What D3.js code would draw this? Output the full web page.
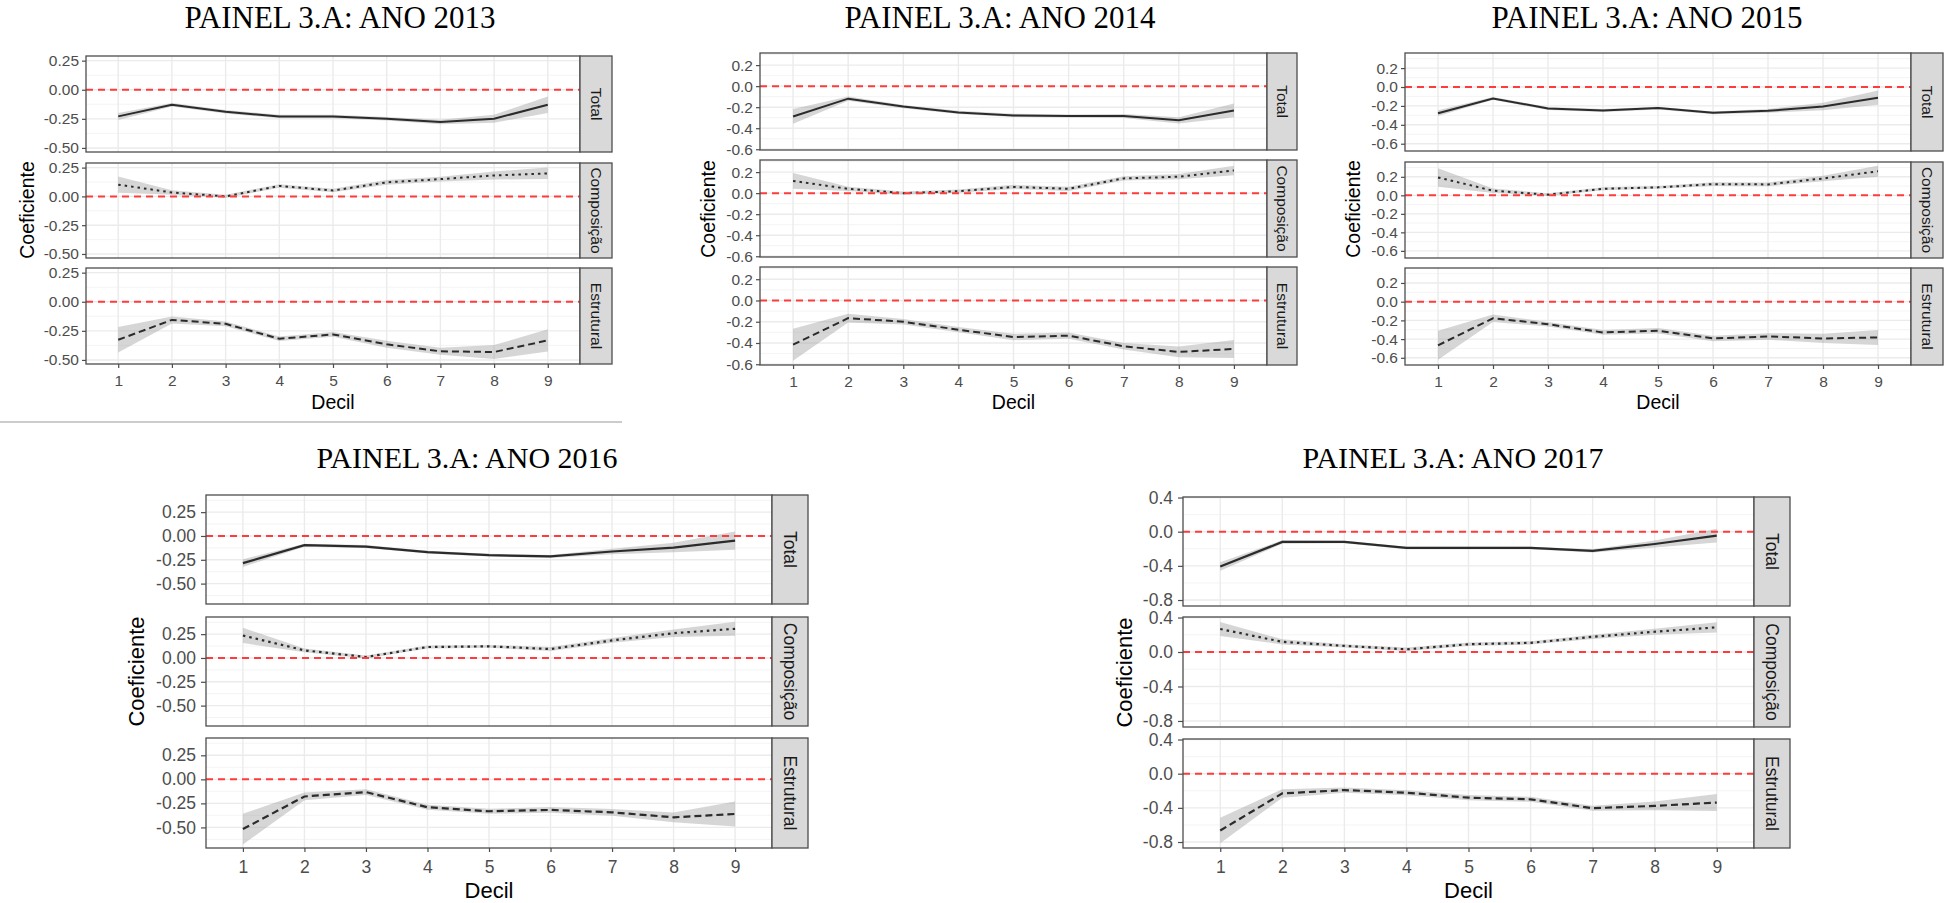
<!DOCTYPE html>
<html>
<head>
<meta charset="utf-8">
<script src="https://cdn.jsdelivr.net/npm/d3@7"></script>
<style>
  body { margin: 0; background: #fff; }
  svg { display: block; }
</style>
</head>
<body>
<svg id="chart" width="1950" height="903"></svg>
<script>
// deciles and facet names
const deciles = [1, 2, 3, 4, 5, 6, 7, 8, 9]
const facetNames = ['Total', 'Composição', 'Estrutural']
const years = [2013, 2014, 2015, 2016, 2017]

// estimates and half width of the band
const total2013 = [-0.229, -0.129, -0.19, -0.229, -0.229, -0.249, -0.277, -0.249, -0.129]
const totalCi2013 = [0.03, 0.015, 0.015, 0.015, 0.015, 0.015, 0.02, 0.035, 0.07]
const comp2013 = [0.102, 0.034, 0.0, 0.091, 0.051, 0.122, 0.15, 0.182, 0.2]
const compCi2013 = [0.07, 0.02, 0.015, 0.015, 0.015, 0.02, 0.02, 0.035, 0.05]
const estr2013 = [-0.327, -0.156, -0.19, -0.318, -0.281, -0.366, -0.426, -0.432, -0.332]
const estrCi2013 = [0.11, 0.03, 0.02, 0.02, 0.02, 0.03, 0.03, 0.06, 0.095]

const total2014 = [-0.288, -0.119, -0.194, -0.25, -0.278, -0.284, -0.284, -0.325, -0.231]
const totalCi2014 = [0.07, 0.02, 0.015, 0.015, 0.015, 0.015, 0.02, 0.03, 0.065]
const comp2014 = [0.116, 0.041, 0.0, 0.019, 0.059, 0.041, 0.14, 0.156, 0.216]
const compCi2014 = [0.075, 0.02, 0.015, 0.015, 0.02, 0.02, 0.02, 0.025, 0.045]
const estr2014 = [-0.416, -0.166, -0.2, -0.275, -0.344, -0.331, -0.431, -0.484, -0.456]
const estrCi2014 = [0.15, 0.04, 0.025, 0.025, 0.03, 0.03, 0.03, 0.05, 0.085]

const total2015 = [-0.277, -0.121, -0.227, -0.248, -0.223, -0.273, -0.252, -0.206, -0.113]
const totalCi2015 = [0.03, 0.015, 0.015, 0.015, 0.015, 0.015, 0.02, 0.04, 0.075]
const comp2015 = [0.193, 0.05, 0.007, 0.071, 0.086, 0.121, 0.118, 0.182, 0.26]
const compCi2015 = [0.1, 0.025, 0.015, 0.015, 0.015, 0.02, 0.02, 0.03, 0.06]
const estr2015 = [-0.467, -0.177, -0.241, -0.329, -0.311, -0.393, -0.372, -0.393, -0.382]
const estrCi2015 = [0.155, 0.04, 0.025, 0.025, 0.03, 0.03, 0.035, 0.05, 0.08]

const total2016 = [-0.285, -0.097, -0.111, -0.17, -0.201, -0.215, -0.163, -0.122, -0.049]
const totalCi2016 = [0.04, 0.015, 0.015, 0.015, 0.015, 0.015, 0.03, 0.05, 0.095]
const comp2016 = [0.236, 0.08, 0.01, 0.115, 0.122, 0.094, 0.184, 0.26, 0.306]
const compCi2016 = [0.08, 0.02, 0.015, 0.015, 0.015, 0.02, 0.025, 0.04, 0.073]
const estr2016 = [-0.517, -0.178, -0.133, -0.29, -0.332, -0.318, -0.343, -0.395, -0.36]
const estrCi2016 = [0.16, 0.04, 0.03, 0.025, 0.025, 0.03, 0.035, 0.05, 0.13]

const total2017 = [-0.408, -0.12, -0.12, -0.19, -0.19, -0.19, -0.225, -0.144, -0.047]
const totalCi2017 = [0.05, 0.02, 0.015, 0.015, 0.015, 0.015, 0.02, 0.04, 0.08]
const comp2017 = [0.267, 0.118, 0.071, 0.031, 0.09, 0.106, 0.176, 0.235, 0.286]
const compCi2017 = [0.08, 0.03, 0.02, 0.02, 0.02, 0.02, 0.025, 0.035, 0.06]
const estr2017 = [-0.665, -0.231, -0.192, -0.223, -0.281, -0.3, -0.404, -0.377, -0.338]
const estrCi2017 = [0.15, 0.05, 0.03, 0.03, 0.03, 0.03, 0.03, 0.05, 0.1]

// y tick labels per year
const ticks2013 = [0.25, 0, -0.25, -0.5]
const ticks2014 = [0.2, 0, -0.2, -0.4, -0.6]
const ticks2015 = [0.2, 0, -0.2, -0.4, -0.6]
const ticks2016 = [0.25, 0, -0.25, -0.5]
const ticks2017 = [0.4, 0, -0.4, -0.8]

const series = {
    2013: [[total2013, totalCi2013], [comp2013, compCi2013], [estr2013, estrCi2013]],
    2014: [[total2014, totalCi2014], [comp2014, compCi2014], [estr2014, estrCi2014]],
    2015: [[total2015, totalCi2015], [comp2015, compCi2015], [estr2015, estrCi2015]],
    2016: [[total2016, totalCi2016], [comp2016, compCi2016], [estr2016, estrCi2016]],
    2017: [[total2017, totalCi2017], [comp2017, compCi2017], [estr2017, estrCi2017]]
}

// layout of each small figure
const row1 = {fsTick: 15.5, fsTitle: 19.5, fsHead: 31, tickPad: 6.5, xTitleY: 409, lw: 2}
const row2 = {fsTick: 17.5, fsTitle: 22, fsHead: 30, tickPad: 8.6, xTitleY: 898, lw: 2.2}
const layouts = {
    2013: {row: row1, left: 86, right: 580, stripR: 612, facets: [[56, 152], [163, 258], [268, 364]],
        domain: [-0.535, 0.29], ticks: ticks2013, fmt: '.2f', titleX: 340, titleY: 28, yLabX: 27},
    2014: {row: row1, left: 760, right: 1267, stripR: 1297, facets: [[53, 150], [160, 257], [267, 365]],
        domain: [-0.607, 0.315], ticks: ticks2014, fmt: '.1f', titleX: 1000, titleY: 28, yLabX: 708},
    2015: {row: row1, left: 1405, right: 1911, stripR: 1943, facets: [[53, 151], [162, 258], [268, 365]],
        domain: [-0.677, 0.36], ticks: ticks2015, fmt: '.1f', titleX: 1647, titleY: 28, yLabX: 1353},
    2016: {row: row2, left: 206, right: 772, stripR: 808, facets: [[495, 604], [617, 726], [738, 848]],
        domain: [-0.714, 0.43], ticks: ticks2016, fmt: '.2f', titleX: 467, titleY: 468, yLabX: 136},
    2017: {row: row2, left: 1183, right: 1754, stripR: 1790, facets: [[497, 606], [617, 727], [739, 848]],
        domain: [-0.87, 0.406], ticks: ticks2017, fmt: '.1f', titleX: 1453, titleY: 468, yLabX: 1124}
}

const dashes = ['none', '2.5,4', '7,4']
const svg = d3.select('#chart')

// separator line between the two rows
svg.append('line')
    .attr('x1', 0).attr('x2', 622)
    .attr('y1', 422).attr('y2', 422)
    .attr('stroke', '#bbbbbb')
    .attr('stroke-width', 1.4)

const drawYear = (year) => {
    const L = layouts[year]
    const R = L.row
    const g = svg.append('g')

    const x = d3.scalePoint()
        .domain(deciles)
        .range([L.left, L.right])
        .padding(0.6)

    g.append('text')
        .text(`PAINEL 3.A: ANO ${year}`)
        .attr('x', L.titleX)
        .attr('y', L.titleY)
        .attr('text-anchor', 'middle')
        .style('font-family', '"Liberation Serif", "Times New Roman", serif')
        .style('font-size', R.fsHead + 'px')
        .attr('fill', '#000')

    const step = L.ticks[0] - L.ticks[1]

    L.facets.forEach((f, i) => {
        const y = d3.scaleLinear().domain(L.domain).range([f[1], f[0]])
        const fg = g.append('g')

        // minor grid
        let minors = []
        for (let v = L.ticks[0] + step / 2; v >= L.domain[0]; v -= step) {
            if (v <= L.domain[1]) minors.push(v)
        }
        fg.selectAll('.minor')
            .data(minors)
            .enter()
            .append('line')
            .attr('x1', L.left).attr('x2', L.right)
            .attr('y1', d => y(d)).attr('y2', d => y(d))
            .attr('stroke', '#f3f3f3')
            .attr('stroke-width', 0.9)

        fg.selectAll('.major')
            .data(L.ticks)
            .enter()
            .append('line')
            .attr('x1', L.left).attr('x2', L.right)
            .attr('y1', d => y(d)).attr('y2', d => y(d))
            .attr('stroke', '#ebebeb')
            .attr('stroke-width', 1.4)

        fg.selectAll('.vgrid')
            .data(deciles)
            .enter()
            .append('line')
            .attr('x1', d => x(d)).attr('x2', d => x(d))
            .attr('y1', f[0]).attr('y2', f[1])
            .attr('stroke', '#ebebeb')
            .attr('stroke-width', 1.4)

        const [est, ci] = series[year][i]
        const points = deciles.map((d, k) => ({dec: d, v: est[k], lo: est[k] - ci[k], hi: est[k] + ci[k]}))

        fg.append('path')
            .datum(points)
            .attr('d', d3.area()
                .x(d => x(d.dec))
                .y0(d => y(d.lo))
                .y1(d => y(d.hi)))
            .attr('fill', '#999999')
            .attr('fill-opacity', 0.4)

        fg.append('path')
            .datum(points)
            .attr('d', d3.line()
                .x(d => x(d.dec))
                .y(d => y(d.v)))
            .attr('fill', 'none')
            .attr('stroke', '#2b2b2b')
            .attr('stroke-width', R.lw)
            .attr('stroke-dasharray', dashes[i])

        fg.append('line')
            .attr('x1', L.left).attr('x2', L.right)
            .attr('y1', y(0)).attr('y2', y(0))
            .attr('stroke', '#ff3b3b')
            .attr('stroke-width', 2)
            .attr('stroke-dasharray', '7,5')

        // panel border
        fg.append('rect')
            .attr('x', L.left).attr('y', f[0])
            .attr('width', L.right - L.left)
            .attr('height', f[1] - f[0])
            .attr('fill', 'none')
            .attr('stroke', '#4d4d4d')
            .attr('stroke-width', 1.3)

        // strip
        fg.append('rect')
            .attr('x', L.right).attr('y', f[0])
            .attr('width', L.stripR - L.right)
            .attr('height', f[1] - f[0])
            .attr('fill', '#d9d9d9')
            .attr('stroke', '#4d4d4d')
            .attr('stroke-width', 1.3)

        fg.append('text')
            .text(facetNames[i])
            .attr('transform', `translate(${(L.right + L.stripR) / 2}, ${(f[0] + f[1]) / 2}) rotate(90)`)
            .attr('text-anchor', 'middle')
            .attr('dy', '0.35em')
            .style('font-family', '"Liberation Sans", Arial, sans-serif')
            .style('font-size', R.fsTick + 'px')
            .attr('fill', '#1a1a1a')

        const yAxis = fg.append('g')
            .attr('transform', `translate(${L.left}, 0)`)
            .call(d3.axisLeft(y)
                .tickValues(L.ticks)
                .tickFormat(d => d3.format(L.fmt)(d).replace('−', '-'))
                .tickSize(R === row1 ? 4 : 5)
                .tickPadding(R === row1 ? 3 : 5))
        yAxis.select('.domain').remove()
        yAxis.selectAll('line').attr('stroke', '#4d4d4d').attr('stroke-width', 1.2)
        yAxis.selectAll('text')
            .style('font-family', '"Liberation Sans", Arial, sans-serif')
            .style('font-size', R.fsTick + 'px')
            .attr('fill', '#4d4d4d')

        if (i === 2) {
            const xAxis = fg.append('g')
                .attr('transform', `translate(0, ${f[1]})`)
                .call(d3.axisBottom(x).tickSize(4).tickPadding(R.tickPad))
            xAxis.select('.domain').remove()
            xAxis.selectAll('line').attr('stroke', '#4d4d4d').attr('stroke-width', 1.2)
            xAxis.selectAll('text')
                .style('font-family', '"Liberation Sans", Arial, sans-serif')
                .style('font-size', R.fsTick + 'px')
                .attr('fill', '#4d4d4d')
        }
    })

    g.append('text')
        .text('Decil')
        .attr('x', (L.left + L.right) / 2)
        .attr('y', R.xTitleY)
        .attr('text-anchor', 'middle')
        .style('font-family', '"Liberation Sans", Arial, sans-serif')
        .style('font-size', R.fsTitle + 'px')
        .attr('fill', '#000')

    const midY = (L.facets[0][0] + L.facets[2][1]) / 2
    g.append('text')
        .text('Coeficiente')
        .attr('transform', `translate(${L.yLabX}, ${midY}) rotate(-90)`)
        .attr('text-anchor', 'middle')
        .attr('dy', '0.35em')
        .style('font-family', '"Liberation Sans", Arial, sans-serif')
        .style('font-size', R.fsTitle + 'px')
        .attr('fill', '#000')
}

years.forEach(drawYear)
</script>
</body>
</html>
